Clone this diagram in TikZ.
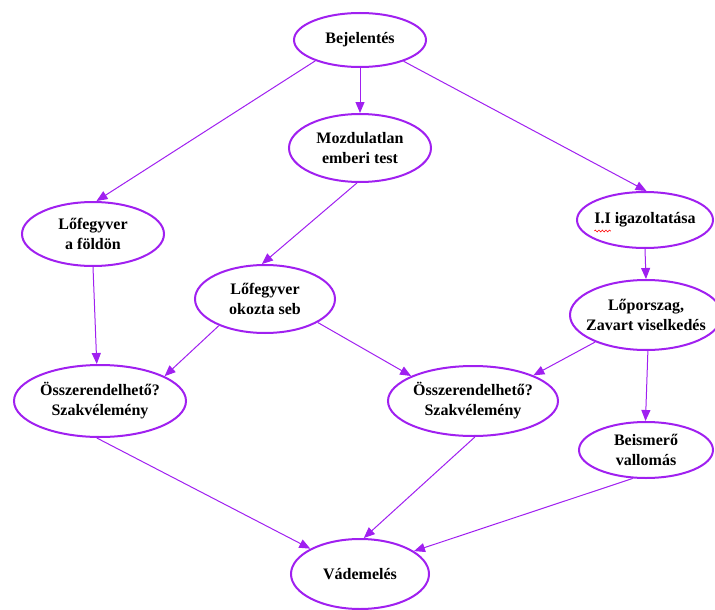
\documentclass[tikz,border=0pt]{standalone}
\usepackage{fontspec}
\setmainfont{Liberation Serif}
\usetikzlibrary{shapes.geometric,arrows.meta,decorations.pathmorphing}
\definecolor{gvpurple}{HTML}{A020F0}
\newlength\iifullw
\newlength\iiword
\AtBeginDocument{%
  \settowidth{\iifullw}{\fontsize{16}{20}\selectfont\bfseries I.I igazoltatása}%
  \settowidth{\iiword}{\fontsize{16}{20}\selectfont\bfseries I.I}%
  \global\iifullw=\iifullw \global\iiword=\iiword}
\begin{document}
\begin{tikzpicture}[x=1pt,y=-1pt,
  gnode/.style={ellipse, draw=gvpurple, line width=2pt, inner xsep=-25pt, inner ysep=-10pt,
    align=center, font=\fontsize{16}{20}\selectfont\bfseries, text=black},
  gedge/.style={draw=gvpurple, line width=1pt, -{Triangle[length=11pt,width=9pt]}},
  wavy/.style={draw=red, line width=0.6pt, decorate, decoration={snake, amplitude=0.9pt, segment length=3.5pt}}]
\useasboundingbox (0,0) rectangle (715,610);
\node[gnode, minimum width=132pt, minimum height=54pt] (bej) at (360,40) {Bejelentés};
\node[gnode, minimum width=142pt, minimum height=68pt] (moz) at (360,148) {Mozdulatlan\\emberi test};
\node[gnode, minimum width=142pt, minimum height=64pt] (lf) at (93,234) {Lőfegyver\\a földön};
\node[gnode, minimum width=136pt, minimum height=56pt] (ii) at (645,220) {I.I igazoltatása};
\node[gnode, minimum width=140pt, minimum height=68pt] (seb) at (265,299) {Lőfegyver\\okozta seb};
\node[gnode, minimum width=152pt, minimum height=70pt] (lp) at (646,315) {Lőporszag,\\Zavart viselkedés};
\node[gnode, minimum width=172pt, minimum height=72pt] (o1) at (100,401) {Összerendelhető?\\Szakvélemény};
\node[gnode, minimum width=170pt, minimum height=70pt] (o2) at (473,401) {Összerendelhető?\\Szakvélemény};
\node[gnode, minimum width=134pt, minimum height=56pt] (beis) at (646,450) {Beismerő\\vallomás};
\node[gnode, minimum width=138pt, minimum height=70pt] (vad) at (360,574) {Vádemelés};
\coordinate (wavestart) at ([shift={(-0.5\iifullw,11)}]ii.center);
\coordinate (waveend) at ([shift={(\iiword,0)}]wavestart);
\draw[wavy] (wavestart) -- (waveend);
\draw[gedge] (bej.205) -- (lf.84);
\draw[gedge] (bej.270) -- (moz.90);
\draw[gedge] (bej.334) -- (ii.87);
\draw[gedge] (moz.265) -- (seb.95);
\draw[gedge] (lf.270) -- (o1.95);
\draw[gedge] (seb.210) -- (o1.21);
\draw[gedge] (seb.336) -- (o2.158);
\draw[gedge] (ii.270) -- (lp.90);
\draw[gedge] (lp.208) -- (o2.23);
\draw[gedge] (lp.273) -- (beis.91);
\draw[gedge] (o1.265) -- (vad.153);
\draw[gedge] (o2.273) -- (vad.84);
\draw[gedge] (beis.245) -- (vad.23);
\end{tikzpicture}
\end{document}
